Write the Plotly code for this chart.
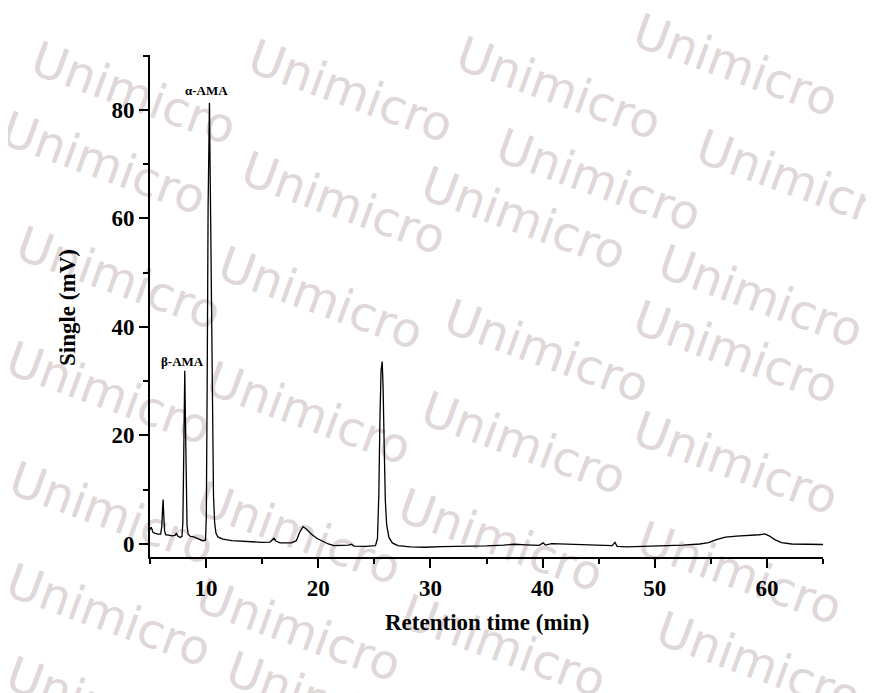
import plotly.graph_objects as go

# ---------------- data ----------------
time_min = [5.0, 5.08, 5.15, 5.25, 5.4, 5.7, 5.95, 6.05, 6.12, 6.17, 6.22, 6.3, 6.4, 6.7, 7.0,
            7.25, 7.35, 7.45, 7.7, 7.85, 7.93, 8.0, 8.07, 8.1, 8.15, 8.22, 8.3, 8.4, 8.6, 8.9,
            9.3, 9.7, 9.95, 10.02, 10.1, 10.18, 10.3, 10.38, 10.47, 10.56, 10.66, 10.76, 10.88,
            11.05, 11.5, 12.3, 13.5, 15.0, 15.7, 15.95, 16.05, 16.25, 16.6, 17.6, 18.05, 18.35,
            18.65, 18.95, 19.4, 19.9, 20.4, 20.9, 21.4, 22.2, 22.7, 22.95, 23.2, 24.2, 25.1,
            25.28, 25.4, 25.5, 25.6, 25.7, 25.78, 25.88, 25.98, 26.1, 26.3, 26.6, 27.1, 28.2,
            29.5, 31.0, 33.0, 35.0, 36.5, 37.5, 38.5, 39.7, 40.05, 40.25, 40.8, 41.5, 42.7,
            44.0, 45.5, 46.2, 46.45, 46.65, 47.5, 49.3, 51.0, 52.5, 54.0, 54.8, 55.5, 56.3,
            57.3, 58.5, 59.3, 59.8, 60.2, 60.7, 61.3, 62.2, 63.5, 65.0]
signal_mv = [2.6, 3.1, 2.9, 2.2, 2.0, 1.8, 1.8, 3.2, 6.5, 8.2, 5.5, 2.4, 1.7, 1.6, 1.5,
             1.6, 2.0, 1.5, 1.2, 1.4, 4.0, 15.0, 28.0, 31.9, 24.0, 10.0, 3.5, 1.8, 1.4, 1.3,
             1.0, 0.6, 0.7, 5.0, 30.0, 62.0, 81.3, 66.0, 42.0, 22.0, 9.0, 4.0, 2.0,
             1.3, 0.9, 0.6, 0.45, 0.3, 0.35, 0.9, 1.05, 0.5, 0.2, 0.2, 0.6, 2.2,
             3.2, 2.7, 1.8, 1.0, 0.5, 0.0, -0.3, -0.3, -0.2, -0.05, -0.4, -0.45, -0.3,
             1.0, 9.0, 23.0, 32.0, 33.6, 29.0, 18.0, 8.0, 3.5, 1.2, 0.2, -0.3, -0.55,
             -0.6, -0.5, -0.45, -0.35, -0.2, -0.05, -0.15, -0.25, 0.2, -0.2, 0.05, 0.0, -0.05,
             -0.2, -0.35, -0.3, 0.3, -0.45, -0.55, -0.45, -0.25, -0.2, 0.0, 0.25, 0.8, 1.25,
             1.45, 1.55, 1.7, 1.85, 1.5, 0.8, 0.25, 0.0, -0.1, -0.1]

x_tick_vals = [10, 20, 30, 40, 50, 60]
x_minor_vals = [5, 15, 25, 35, 45, 55, 65]
y_tick_vals = [0, 20, 40, 60, 80]
y_minor_vals = [10, 30, 50, 70, 90]

peak_names = ["β-AMA", "α-AMA"]
peak_name_x = [7.86, 10.0]
peak_name_y = [33.6, 83.6]

x_title = "Retention time (min)"
y_title = "Single (mV)"

watermark_text = "Unimicro"
watermark_centers_px = [
    (135, 90), (352, 88), (560, 85), (737, 62),
    (105, 160), (345, 200), (525, 215), (600, 177), (800, 178),
    (120, 275), (322, 295), (548, 348), (762, 293), (737, 349),
    (110, 390), (310, 410), (525, 440), (737, 460),
    (113, 510), (300, 530), (502, 537), (741, 570),
    (110, 612), (300, 627), (505, 643), (760, 660),
    (110, 705), (330, 700),
]

# ---------------- figure ----------------
# the page body adds an 8 px offset, so the figure is made 8 px smaller
OFF = 8
PL, PT, PW, PH = 150, 55, 673, 502          # plot area in page pixels
W, H = 874 - OFF, 693 - OFF
ML, MT = PL - OFF, PT - OFF
MR = W - ML - PW
MB = H - MT - PH


def to_paper(cx, cy):
    return (cx - PL) / PW, (PT + PH - cy) / PH


serif = "Liberation Serif, Times New Roman, serif"

fig = go.Figure()
fig.add_trace(go.Scatter(x=time_min, y=signal_mv, mode="lines",
                         line=dict(color="black", width=1.3), showlegend=False,
                         hoverinfo="skip"))

for cx, cy in watermark_centers_px:
    px, py = to_paper(cx, cy)
    fig.add_shape(type="rect", xref="paper", yref="paper",
                  x0=px - 0.001, x1=px + 0.001, y0=py - 0.001, y1=py + 0.001,
                  line=dict(width=0), fillcolor="rgba(0,0,0,0)", layer="below",
                  label=dict(text=watermark_text, textangle=20,
                             textposition="middle center",
                             font=dict(family="DejaVu Sans", size=48, color="#e0d7d9")))

for name, xx, yy in zip(peak_names, peak_name_x, peak_name_y):
    fig.add_annotation(x=xx, y=yy, xref="x", yref="y", text=name, showarrow=False,
                       font=dict(family=serif, size=13, color="black", weight="bold"),
                       xanchor="center", yanchor="middle")

tx, ty = to_paper(487, 623)
fig.add_annotation(x=tx, y=ty, xref="paper", yref="paper",
                   text=x_title, showarrow=False, xanchor="center", yanchor="middle",
                   font=dict(family=serif, size=23, color="black", weight="bold"))
tx, ty = to_paper(67, 308)
fig.add_annotation(x=tx, y=ty, xref="paper", yref="paper",
                   text=y_title, showarrow=False, xanchor="center", yanchor="middle",
                   textangle=-90,
                   font=dict(family=serif, size=23, color="black", weight="bold"))

axis_common = dict(showline=True, linecolor="black", linewidth=2, ticks="outside",
                   ticklen=9, tickwidth=2, tickcolor="black", showgrid=False,
                   zeroline=False, mirror=False,
                   tickfont=dict(family=serif, size=23, color="black", weight="bold"))

fig.update_xaxes(range=[5, 65], tickmode="array", tickvals=x_tick_vals,
                 minor=dict(tickmode="array", tickvals=x_minor_vals, ticks="outside",
                            ticklen=5, tickwidth=2, tickcolor="black", showgrid=False),
                 **axis_common)
fig.update_yaxes(range=[-2.4, 90.1], tickmode="array", tickvals=y_tick_vals,
                 minor=dict(tickmode="array", tickvals=y_minor_vals, ticks="outside",
                            ticklen=5, tickwidth=2, tickcolor="black", showgrid=False),
                 **axis_common)

fig.update_layout(width=W, height=H, margin=dict(l=ML, r=MR, t=MT, b=MB, pad=0),
                  plot_bgcolor="rgba(0,0,0,0)", paper_bgcolor="white", showlegend=False)

fig.write_html("out.html")
